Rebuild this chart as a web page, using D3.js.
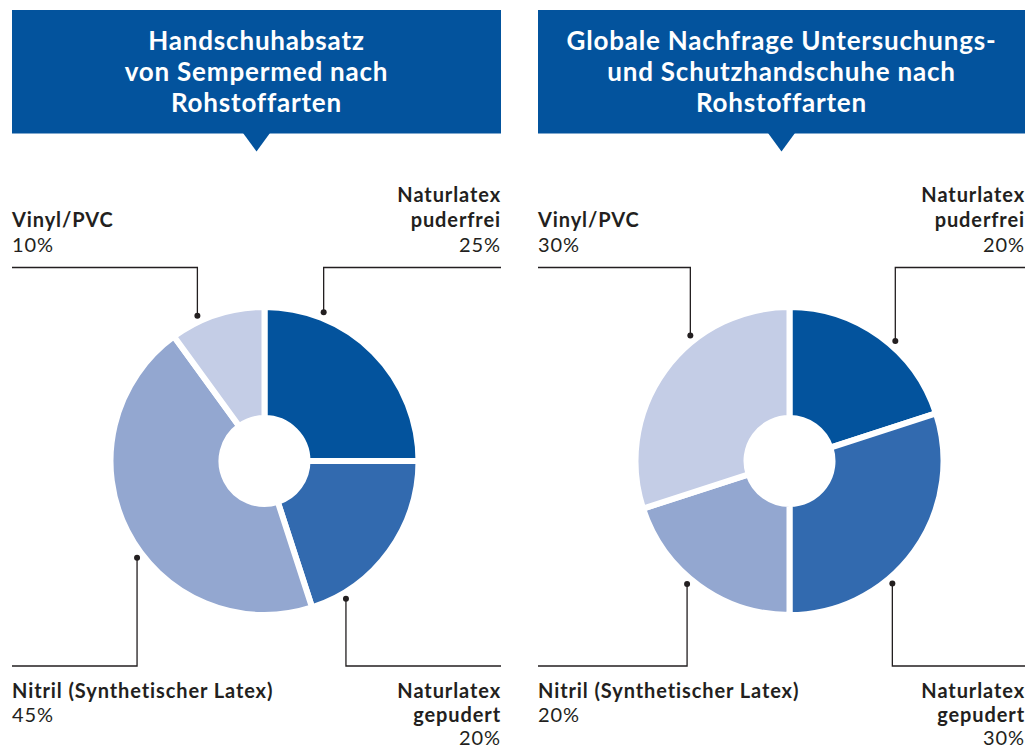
<!DOCTYPE html>
<html>
<head>
<meta charset="utf-8">
<script src="https://cdn.jsdelivr.net/npm/d3@7"></script>
<style>
  body { margin: 0; background: #fff; }
  svg text { font-family: "Lato", "Open Sans", sans-serif; }
</style>
</head>
<body>
<div id="vis"></div>
<script>
// data
var categories = ["Naturlatex puderfrei", "Naturlatex gepudert", "Nitril (Synthetischer Latex)", "Vinyl/PVC"];
var labelLines = [["Naturlatex", "puderfrei"], ["Naturlatex", "gepudert"], ["Nitril (Synthetischer Latex)"], ["Vinyl/PVC"]];
var sempermedValues = [25, 20, 45, 10];
var globalValues = [20, 30, 20, 30];
var titleLeft = ["Handschuhabsatz", "von Sempermed nach", "Rohstoffarten"];
var titleRight = ["Globale Nachfrage Untersuchungs-", "und Schutzhandschuhe nach", "Rohstoffarten"];

// styling / layout
var colors = ["#03539d", "#326aaf", "#93a7d0", "#c4cde6"];
var headerColor = "#03539d";
var inkColor = "#231f20";
// which corner each category's label sits in
var corners = ["tr", "br", "bl", "tl"];
// where the leader dot sits on the ring (degrees clockwise from top)
var dotAnglesLeft = [21.7, 149.4, 232.8, 335.2];
var dotAnglesRight = [41.4, 140, 219.8, 321.7];

var width = 1032, height = 749;

var svg = d3.select("#vis")
    .append("svg")
    .attr("width", width)
    .attr("height", height);

function drawPanel(x0, x1, titleLines, values, dotAngles) {
    var g = svg.append("g");
    var cx = (x0 + x1) / 2;

    // header box with pointer
    g.append("rect")
        .attr("x", x0).attr("y", 10)
        .attr("width", x1 - x0).attr("height", 123.5)
        .attr("fill", headerColor);
    g.append("path")
        .attr("d", "M" + (cx - 13.5) + ",133 L" + (cx + 13.5) + ",133 L" + cx + ",151.5 Z")
        .attr("fill", headerColor);

    g.selectAll(".title")
        .data(titleLines)
        .enter().append("text")
        .attr("class", "title")
        .attr("x", cx)
        .attr("y", function(d, i) { return 50 + i * 31; })
        .attr("text-anchor", "middle")
        .attr("fill", "#fff")
        .style("font-size", "26px")
        .style("font-weight", "bold")
        .style("letter-spacing", "0.8px")
        .text(function(d) { return d; });

    // donut
    var pcx = cx + 8, pcy = 461;
    var pie = d3.pie().sort(null).value(function(d) { return d; });
    var arcs = pie(values);
    var arc = d3.arc().innerRadius(43).outerRadius(154);

    var donut = g.append("g")
        .attr("transform", "translate(" + pcx + "," + pcy + ")");
    donut.selectAll("path")
        .data(arcs)
        .enter().append("path")
        .attr("d", arc)
        .attr("fill", function(d, i) { return colors[i]; })
        .attr("stroke", "#fff")
        .attr("stroke-width", 6)
        .attr("stroke-linejoin", "round");

    // leaders + labels
    var dotR = 160;
    var topY = 267.5, botY = 666;
    arcs.forEach(function(a, i) {
        var ang = dotAngles[i] * Math.PI / 180;
        var dx = pcx + dotR * Math.sin(ang);
        var dy = pcy - dotR * Math.cos(ang);
        var c = corners[i];
        var ly = c[0] == "t" ? topY : botY;
        var ex = c[1] == "l" ? x0 : x1;

        g.append("path")
            .attr("d", "M" + dx + "," + dy + " L" + dx + "," + ly + " L" + ex + "," + ly)
            .attr("fill", "none")
            .attr("stroke", inkColor)
            .attr("stroke-width", 1.3);
        g.append("circle")
            .attr("cx", dx).attr("cy", dy)
            .attr("r", 3)
            .attr("fill", inkColor);

        var lines = labelLines[i].map(function(t) { return {t: t, bold: true}; });
        lines.push({t: values[i] + "%", bold: false});
        var anchor = c[1] == "l" ? "start" : "end";
        var step = c[0] == "t" ? 25 : 23.5;
        var firstY = c[0] == "t" ? 252 - (lines.length - 1) * step : 698.3;

        g.selectAll(".lbl" + i)
            .data(lines)
            .enter().append("text")
            .attr("x", ex)
            .attr("y", function(d, j) { return firstY + j * step; })
            .attr("text-anchor", anchor)
            .attr("fill", inkColor)
            .style("font-size", "20px")
            .style("letter-spacing", "0.9px")
            .style("font-weight", function(d) { return d.bold ? "bold" : "normal"; })
            .text(function(d) { return d.t; });
    });
}

drawPanel(12, 501, titleLeft, sempermedValues, dotAnglesLeft);
drawPanel(538, 1025, titleRight, globalValues, dotAnglesRight);
</script>
</body>
</html>
